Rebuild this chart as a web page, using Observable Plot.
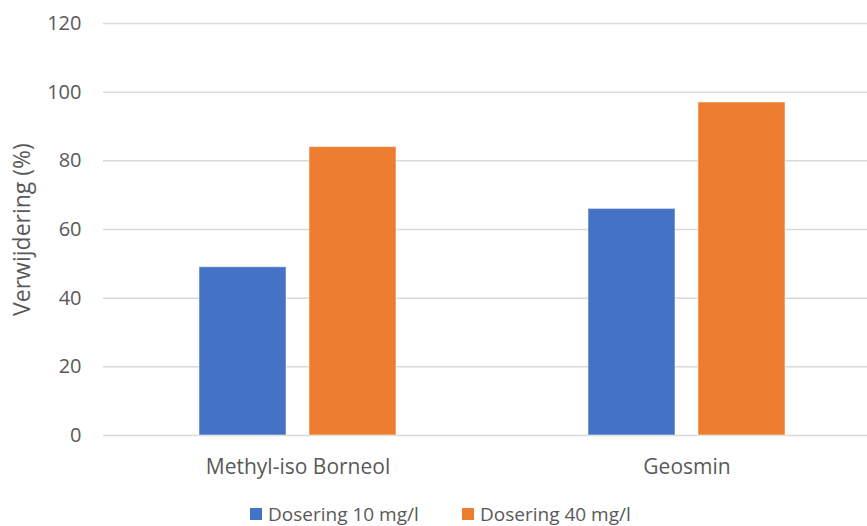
<!DOCTYPE html>
<html>
<head>
<meta charset="utf-8">
<script src="https://cdn.jsdelivr.net/npm/d3@7"></script>
<script src="https://cdn.jsdelivr.net/npm/@observablehq/plot@0.6"></script>
<style>
  html, body { margin: 0; padding: 0; background: #fff; overflow: hidden; }
  #wrap { position: relative; width: 867px; height: 526px; overflow: hidden; font-family: "Open Sans", sans-serif; color: #595959; }
  #legend { position: absolute; left: 0; top: 502px; height: 24px; display: flex; align-items: center; font-size: 19px; white-space: nowrap; }
  .item { position: absolute; display: flex; align-items: center; }
  .sw { width: 12px; height: 12px; margin-right: 6px; }
</style>
</head>
<body>
<div id="wrap"><div id="chart"></div><div id="legend"></div></div>
<script>
const categories = ["Methyl-iso Borneol", "Geosmin"];
const series = ["Dosering 10 mg/l", "Dosering 40 mg/l"];
const dose10 = [49, 66];
const dose40 = [84, 97];
const yTicks = [0, 20, 40, 60, 80, 100, 120];
const colors = ["#4472C4", "#ED7D31"];

const data = categories.flatMap((c, i) => [
  {cat: c, series: series[0], value: dose10[i]},
  {cat: c, series: series[1], value: dose40[i]}
]);

const chart = Plot.plot({
  width: 867,
  height: 495,
  marginLeft: 103,
  marginRight: -14,
  marginTop: 23,
  marginBottom: 60,
  style: {fontFamily: "Open Sans, sans-serif", fontSize: "20px", color: "#595959", background: "#fff"},
  fx: {domain: categories, padding: 0, axis: "bottom", label: null, tickSize: 0, tickPadding: 24},
  x: {domain: series, paddingInner: 0.208, paddingOuter: 0.864, axis: null},
  y: {domain: [0, 120], ticks: yTicks, tickSize: 0, tickPadding: 22, label: "Verwijdering (%)", labelAnchor: "center", labelArrow: "none", labelOffset: 90},
  color: {domain: series, range: colors},
  marks: [
    Plot.ruleY(yTicks, {stroke: "#d9d9d9", strokeWidth: 1.5}),
    Plot.barY(data, {fx: "cat", x: "series", y: "value", fill: "series", stroke: "#ffffff", strokeOpacity: 0.5, strokeWidth: 1})
  ]
});
document.getElementById("chart").appendChild(chart);
const yl = chart.querySelector('[aria-label="y-axis label"]');
if (yl) yl.style.fontSize = "23px";
const fxl = chart.querySelector('[aria-label="fx-axis tick label"]');
if (fxl) fxl.style.fontSize = "21px";

const legend = document.getElementById("legend");
const lx = [250, 462];
series.forEach((s, i) => {
  const item = document.createElement("div");
  item.className = "item";
  item.style.left = lx[i] + "px";
  const sw = document.createElement("span");
  sw.className = "sw";
  sw.style.background = colors[i];
  const t = document.createElement("span");
  t.textContent = s;
  item.appendChild(sw);
  item.appendChild(t);
  legend.appendChild(item);
});
</script>
</body>
</html>
